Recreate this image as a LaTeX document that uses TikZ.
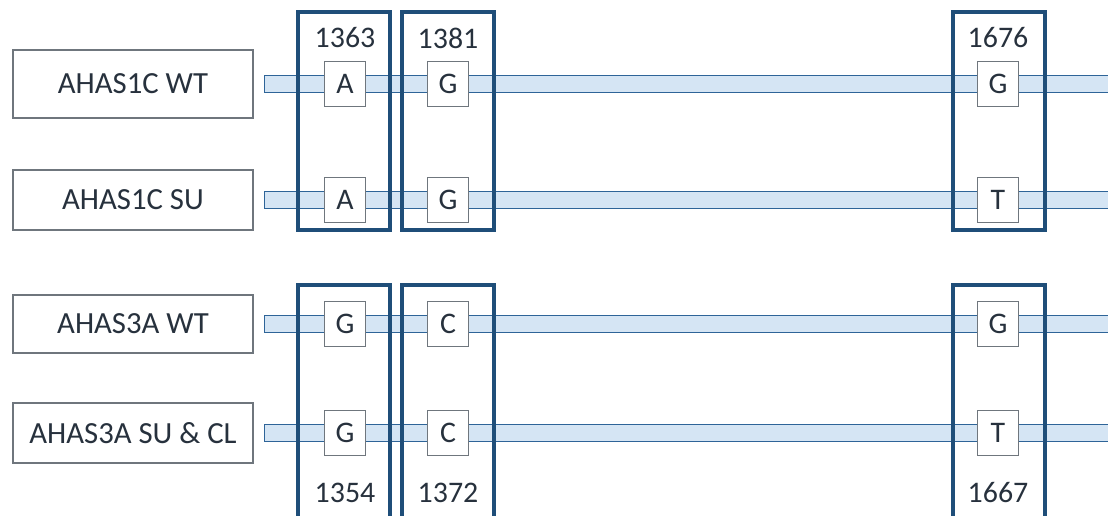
\documentclass[tikz,border=0pt]{standalone}
\usepackage{fontspec}
\setmainfont{Carlito}
\usetikzlibrary{positioning}

\definecolor{navy}{HTML}{1F4E79}
\definecolor{barfill}{HTML}{D5E5F4}
\definecolor{baredge}{HTML}{2E6498}
\definecolor{inktext}{HTML}{27313D}
\definecolor{boxgray}{HTML}{6F767D}

\tikzset{
  namebox/.style={draw=boxgray, line width=0.6pt, minimum width=4.8cm,
    inner sep=0pt, text=inktext, font=\fontsize{17.5}{20}\selectfont},
  basebox/.style={draw=boxgray, line width=0.6pt, fill=white,
    minimum width=0.82cm, minimum height=0.9cm, inner sep=0pt,
    text=inktext, font=\fontsize{17}{20}\selectfont},
  bar/.style={draw=baredge, line width=0.6pt, fill=barfill},
  sitebox/.style={draw=navy, line width=2.1pt},
  posnum/.style={text=inktext, font=\fontsize{17}{20}\selectfont}
}

\begin{document}
\begin{tikzpicture}[x=0.02cm, y=-0.02cm]
  % Rahmen (1108 x 516 px)
  \useasboundingbox (0,0) rectangle (1108,516);
  \clip (0,0) rectangle (1108,516);

  % Namen der Allele (links)
  \node[namebox, minimum height=1.36cm] (lab1) at (133,84)  {AHAS1C WT};
  \node[namebox, minimum height=1.2cm]  (lab2) at (133,200) {AHAS1C SU};
  \node[namebox, minimum height=1.16cm] (lab3) at (133,324) {AHAS3A WT};
  \node[namebox, minimum height=1.2cm]  (lab4) at (133,433) {AHAS3A SU \& CL};

  % Sequenzbalken
  \foreach \r in {1,...,4} {
    \coordinate[right=0.22cm of lab\r.east] (barL\r);
    \draw[bar] ([yshift=0.17cm]barL\r) rectangle ([yshift=-0.17cm]barL\r -| 1120,0);
  }

  % Positionsrahmen (oben: AHAS1C, unten: AHAS3A)
  \foreach \xl/\xr in {298/390, 402/494, 953/1045} {
    \draw[sitebox] (\xl,12)  rectangle (\xr,230);
    \draw[sitebox] (\xl,285) rectangle (\xr,530);
  }

  % Basen an den Positionen
  \foreach \r/\y/\ba/\bb/\bc in {1/84/A/G/G, 2/200/A/G/T, 3/324/G/C/G, 4/433/G/C/T} {
    \node[basebox] (b\r a) at (345,\y) {\ba};
    \node[basebox] (b\r b) at (448,\y) {\bb};
    \node[basebox] (b\r c) at (998,\y) {\bc};
  }

  % Positionsnummern
  \node[posnum] (n1c) at (345,38)  {1363};
  \node[posnum] (n2c) at (448,38)  {1381};
  \node[posnum] (n3c) at (998,38)  {1676};
  \node[posnum] (n1a) at (345,493) {1354};
  \node[posnum] (n2a) at (448,493) {1372};
  \node[posnum] (n3a) at (998,493) {1667};

\end{tikzpicture}
\end{document}
